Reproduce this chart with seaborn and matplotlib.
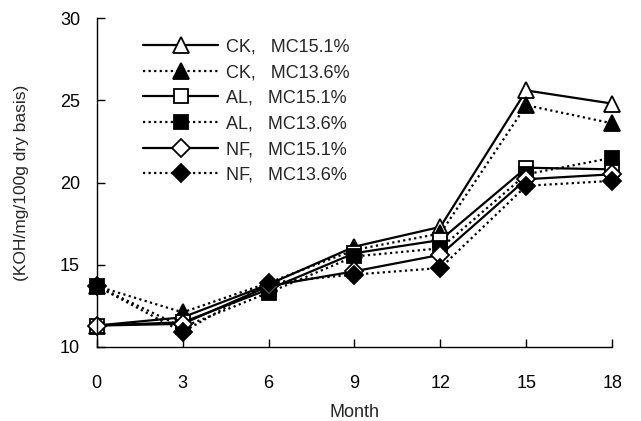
import pandas as pd
import seaborn as sns
import matplotlib
matplotlib.use("Agg")
import matplotlib.pyplot as plt

months = [0, 3, 6, 9, 12, 15, 18]

ck_151 = [11.3, 11.8, 13.8, 16.1, 17.3, 25.6, 24.8]
ck_136 = [13.7, 12.1, 13.9, 15.9, 16.9, 24.7, 23.6]
al_151 = [11.3, 11.5, 13.5, 15.7, 16.5, 20.9, 20.8]
al_136 = [13.7, 11.2, 13.3, 15.5, 16.0, 20.5, 21.5]
nf_151 = [11.3, 11.4, 13.7, 14.6, 15.6, 20.2, 20.5]
nf_136 = [13.7, 10.9, 13.9, 14.4, 14.8, 19.8, 20.1]

labels = ["CK,   MC15.1%", "CK,   MC13.6%", "AL,   MC15.1%",
          "AL,   MC13.6%", "NF,   MC15.1%", "NF,   MC13.6%"]

series = [ck_151, ck_136, al_151, al_136, nf_151, nf_136]
markers = ["^", "^", "s", "s", "D", "D"]
filled = [False, True, False, True, False, True]
sizes = [11, 11, 10, 10, 9, 9]

sns.set_style("ticks")
plt.rcParams['font.family'] = ['Liberation Sans', 'DejaVu Sans']

fig = plt.figure(figsize=(6.41, 4.21), dpi=100)
ax = fig.add_axes([0.151, 0.176, 0.804, 0.781])

for vals, lab, mk, fill, ms in zip(series, labels, markers, filled, sizes):
    df = pd.DataFrame({"Month": months, "value": vals})
    sns.lineplot(data=df, x="Month", y="value", ax=ax, color="black",
                 linestyle=(0, (1, 1.5)) if fill else "-", linewidth=1.6,
                 marker=mk, markersize=ms, markeredgecolor="black",
                 markerfacecolor="black" if fill else "white",
                 markeredgewidth=1.3, label=lab, clip_on=False)

ax.set_xlim(0, 18)
ax.set_ylim(10, 30)
ax.set_xticks(months)
ax.set_yticks([10, 15, 20, 25, 30])
ax.tick_params(direction="in", length=6, width=1, labelsize=13, colors="black")
ax.tick_params(axis="x", pad=20)
ax.tick_params(axis="y", pad=12)
for s in ["top", "right"]:
    ax.spines[s].set_visible(False)
for s in ["left", "bottom"]:
    ax.spines[s].set_color("black")
    ax.spines[s].set_linewidth(1)

ax.set_xlabel("Month", fontsize=13, labelpad=9)
ax.set_ylabel("(KOH/mg/100g dry basis)", fontsize=12.5, labelpad=22)

ax.legend(loc="upper left", bbox_to_anchor=(0.075, 0.96), frameon=False,
          fontsize=13, handlelength=4.2, labelspacing=0.48, handletextpad=0.4,
          borderaxespad=0)

fig.savefig("out.png", dpi=100)
